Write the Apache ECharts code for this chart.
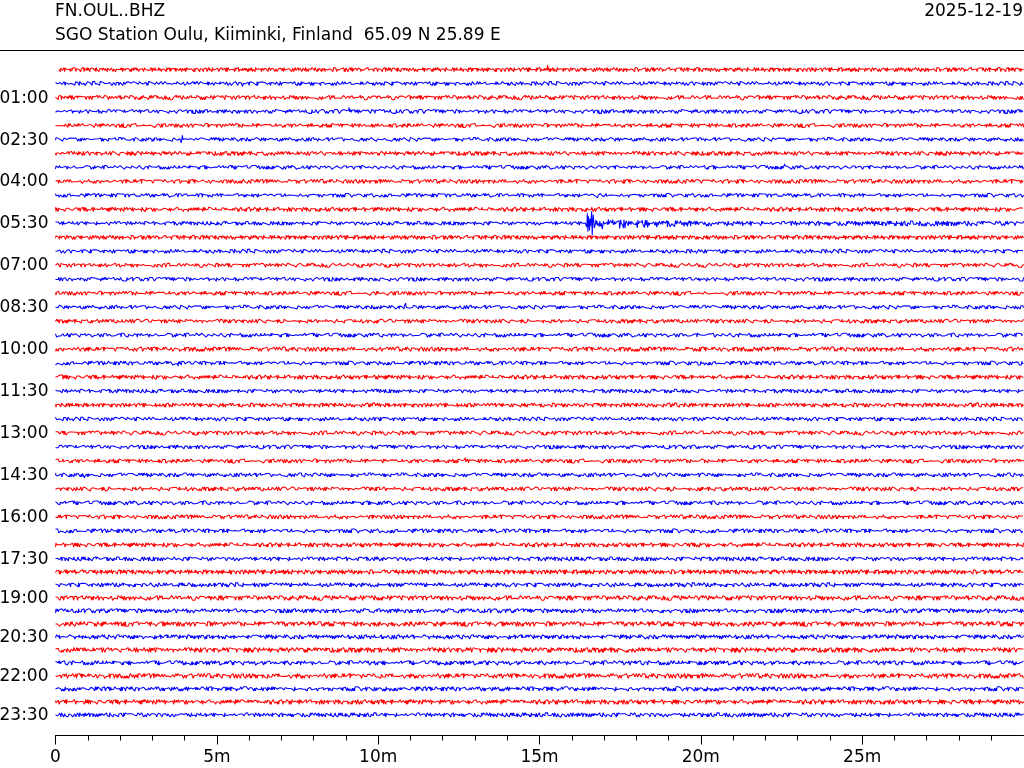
<!DOCTYPE html>
<html><head><meta charset="utf-8">
<script src="https://cdn.jsdelivr.net/npm/echarts@6/dist/echarts.min.js"></script>
<style>html,body{margin:0;padding:0;background:#fff}#c{width:1024px;height:768px}</style>
</head><body><div id="c"></div>
<script>
// ---------------- data ----------------
const stationCode = 'FN.OUL..BHZ';
const stationDesc = 'SGO Station Oulu, Kiiminki, Finland  65.09 N 25.89 E';
const dayLabel = '2025-12-19';
const traceCount = 48;                 // one line per 30 minutes
const yTickLabels = ['01:00','02:30','04:00','05:30','07:00','08:30','10:00','11:30','13:00','14:30','16:00','17:30','19:00','20:30','22:00','23:30'];
const yTickTraceIdx = [2,5,8,11,14,17,20,23,26,29,32,35,38,41,44,47];
const xTickValues = [0,5,10,15,20,25];
const xTickLabels = ['0','5m','10m','15m','20m','25m'];
const xMinorTicks = [1,2,3,4,6,7,8,9,11,12,13,14,16,17,18,19,21,22,23,24,26,27,28,29];
// estimated background noise level of each line
const traceNoiseLevel = [1.45,1.35,1.5,1.35,1.4,1.3,1.45,1.3,1.4,1.3,1.5,1.3,1.5,1.35,1.35,1.3,1.4,1.3,1.35,1.35,1.5,1.35,1.5,1.3,
                         1.4,1.35,1.4,1.3,1.4,1.35,1.4,1.35,1.4,1.4,1.5,1.4,1.55,1.45,1.65,1.45,1.65,1.5,1.7,1.5,1.65,1.5,1.65,1.45];
const traceFirstMinute = [0.09];       // first line begins slightly late
// hand-typed wiggle sequence (digit -> value via digitValue)
const noiseDigits =
 '6372816459273846192573648251934826371594628517394637192648518264937152'+
 '5738291647294716385261837492653847261958729518364746182937568352764129'+
 '5927381645183649572764829136573759284615926481735347183629582853749164'+
 '7169285347538294716584261937583691827456627485193941583627947835194628'+
 '2496718353591728463862439581713784625919815739462646291837571975364828'+
 '6538271949328614957579136582425469217836274839615583651427974197583626'+
 '6823917453357624818972496318545184736297263851947494728631514851627938'+
 '6317492865395281764674862391515219648373863715294927459638186193857424'+
 '48627315967528496313317492586858936142';
const digitValue = [-1.8,-1.0,-0.65,-0.4,-0.15,0.15,0.4,0.65,1.0,1.8];
// notable single blips: [line, minute, signed size]
const spikes = [[0,15.25,-4],[1,5.8,3.5],[3,9.1,-3.5],[5,3.9,4],[5,3.93,-3.5],[6,27.6,3],[7,22.6,-3],
                [9,16.8,3],[17,10.85,-3.5],[21,3.8,3.5],[28,12.7,-3],[29,0.9,3.5],[37,17.4,-3],
                // earthquake onset on the 05:30 line
                [11,16.48,-9.5],[11,16.5,9],[11,16.62,-11.6],[11,16.64,12.7],[11,16.66,-8]];
const eventTrace = 11;
const eventEnvMinute = [16.43,16.46,16.52,16.56,16.6,16.67,16.72,16.9,17.3,18.0,18.7,19.5,21.0,24.0,27.0,28.5,30];
const eventEnvLevel  = [0,    6.5,  6.5,  3.5,  6.5, 6.5,  4.5,  3.6, 3.2, 2.8, 2.4, 2.0, 1.7, 1.6, 1.8, 1.7, 1.6];

// ---------------- layout ----------------
const pxPerRow = 13.98, lateRowPx = 13.0, breakRow = 35;
function rowPos(k){ return k <= breakRow ? k : breakRow + (k - breakRow) * lateRowPx / pxPerRow; }
const samplesPerLine = 1800, lineMinutes = 30;
const strides = [1,7,11,13,17,19,23,29,31,37,41,43];
function gcd(a,b){ while(b){ const t=b; b=a%b; a=t; } return a; }
function envAt(t){
  if (t < eventEnvMinute[0]) return 0;
  for (let j=1;j<eventEnvMinute.length;j++){
    if (t <= eventEnvMinute[j]){
      const a=eventEnvMinute[j-1], b=eventEnvMinute[j];
      return eventEnvLevel[j-1] + (eventEnvLevel[j]-eventEnvLevel[j-1])*(t-a)/(b-a);
    }
  }
  return eventEnvLevel[eventEnvLevel.length-1];
}
const N = noiseDigits.length;
const series = [];
for (let k=0;k<traceCount;k++){
  const base = rowPos(k);
  let stride = strides[k % strides.length];
  while (gcd(stride,N)!==1) stride += 2;
  const off = (k*131) % N;
  const start = traceFirstMinute[k] || 0;
  const vals = [];
  for (let i=0;i<=samplesPerLine;i++){
    const t = i*lineMinutes/samplesPerLine;
    let level = traceNoiseLevel[k];
    if (k===eventTrace) level = Math.max(level, envAt(t));
    const d = noiseDigits.charCodeAt((off + i*stride + Math.floor(i/N)*37) % N) - 48;
    vals.push([t, digitValue[d]*level]);
  }
  spikes.forEach(s=>{ if (s[0]===k){ const i=Math.round(s[1]*samplesPerLine/lineMinutes); vals[i][1]=s[2]; } });
  const pts = vals.filter(p=>p[0]>=start).map(p=>[p[0], base + p[1]/pxPerRow]);
  series.push({
    type:'line', data:pts, showSymbol:false, symbol:'none', silent:true,
    xAxisIndex:0, yAxisIndex:0,
    lineStyle:{width:1.05, color: k%2===0 ? '#ff0000' : '#0000ff'},
    animation:false
  });
}
const yLabelPos = yTickTraceIdx.map(k=>rowPos(k) + 1.2/pxPerRow);
function yLabel(v){
  let best=0, bd=1e9;
  yLabelPos.forEach((p,i)=>{ const d=Math.abs(p-v); if(d<bd){bd=d;best=i;} });
  return yTickLabels[best];
}
const FONT = 'DejaVu Sans';
const FS = 17;
const gridGeom = {left:55.5, right:0.5, top:69-pxPerRow, bottom:32.5, containLabel:false, outerBoundsMode:'none'};
const yMax = (735.5-69)/pxPerRow;
const chart = echarts.init(document.getElementById('c'), null, {renderer:'canvas'});
chart.setOption({
  backgroundColor:'#ffffff',
  animation:false,
  title:[
    {text:stationCode, left:55, top:3, padding:0, textStyle:{fontFamily:FONT,fontSize:FS,fontWeight:'normal',color:'#000'}},
    {text:stationDesc, left:55, top:27, padding:0, textStyle:{fontFamily:FONT,fontSize:FS,fontWeight:'normal',color:'#000'}},
    {text:dayLabel, right:1, top:3, padding:0, textStyle:{fontFamily:FONT,fontSize:FS,fontWeight:'normal',color:'#000'}}
  ],
  graphic:[{type:'line', shape:{x1:0,y1:50.5,x2:1024,y2:50.5}, style:{stroke:'#000',lineWidth:1}, silent:true}],
  grid:[Object.assign({}, gridGeom), Object.assign({}, gridGeom)],
  xAxis:[
    {type:'value', gridIndex:0, min:0, max:30, position:'bottom',
     axisLine:{show:true, onZero:false, lineStyle:{color:'#000', width:1}},
     axisTick:{show:true, length:9, customValues:xTickValues, lineStyle:{color:'#000'}},
     axisLabel:{show:true, customValues:xTickValues, margin:14, fontFamily:FONT, fontSize:FS, color:'#000',
       formatter:v=>xTickLabels[xTickValues.indexOf(Math.round(v))]},
     splitLine:{show:false}},
    {type:'value', gridIndex:1, min:0, max:30, position:'bottom',
     axisLine:{show:false, onZero:false},
     axisTick:{show:true, length:5, customValues:xMinorTicks, lineStyle:{color:'#000'}},
     axisLabel:{show:false}, splitLine:{show:false}}
  ],
  yAxis:[
    {type:'value', gridIndex:0, inverse:true, min:-1, max:yMax,
     axisLine:{show:false}, axisTick:{show:false}, splitLine:{show:false},
     axisLabel:{show:true, customValues:yLabelPos, margin:7, fontFamily:FONT, fontSize:FS, color:'#000', formatter:yLabel}},
    {type:'value', gridIndex:1, inverse:true, min:-1, max:yMax, show:false}
  ],
  series: series
});
</script></body></html>
